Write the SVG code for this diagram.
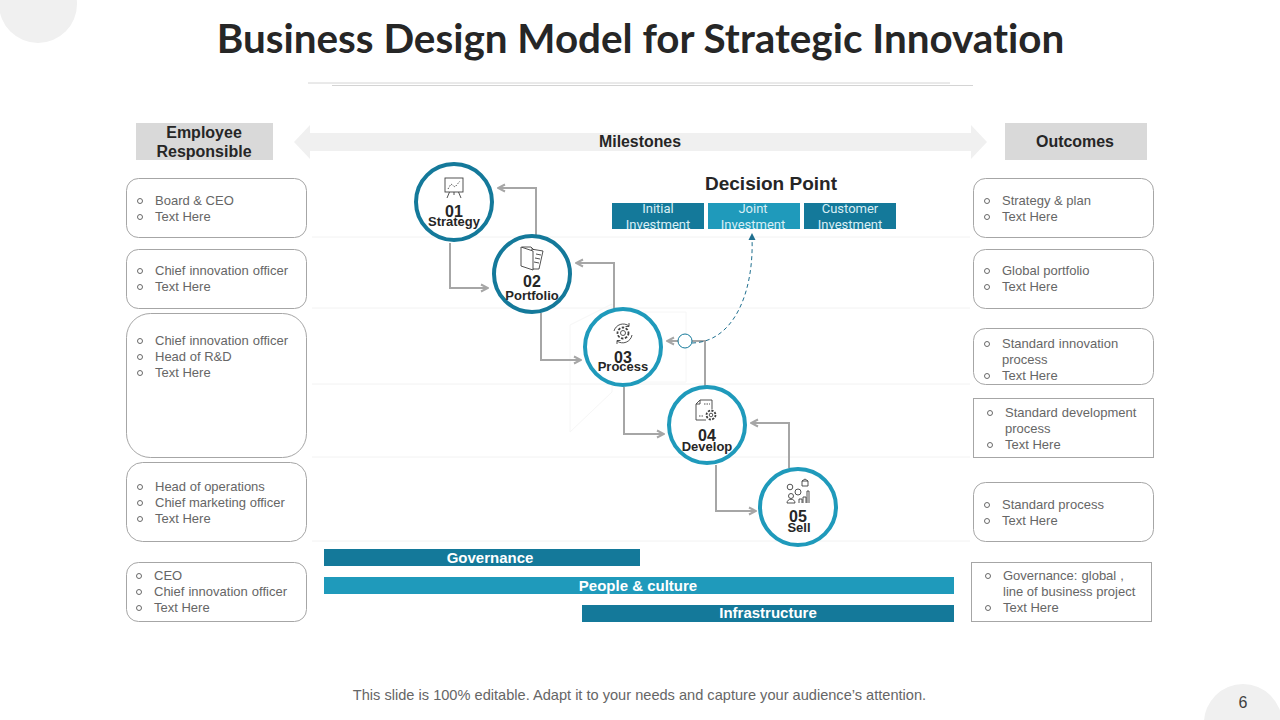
<svg xmlns="http://www.w3.org/2000/svg" width="1280" height="720" viewBox="0 0 1280 720">
<style>
text{font-family:"Liberation Sans",Arial,sans-serif}
.title{font-family:"Lato","Liberation Sans",sans-serif;font-size:40.400px;font-weight:700;fill:#262626;text-anchor:middle;font-variant-ligatures:none}
.hd{font-size:16px;font-weight:700;fill:#262626;text-anchor:middle}
.box{fill:#fff;stroke:#a6a6a6;stroke-width:1}
.li{font-size:13px;fill:#666}
.b{fill:none;stroke:#595959;stroke-width:.9}
.bar{font-size:15px;font-weight:700;fill:#fff;text-anchor:middle}
.dp{font-family:"Roboto","Liberation Sans",sans-serif;font-size:13px;fill:#d8eef5;text-anchor:middle}
.num{font-size:16px;font-weight:700;fill:#262626;text-anchor:middle}
.lab{font-size:13px;font-weight:700;fill:#262626;text-anchor:middle}
.c1{fill:#fff;stroke:#14799a;stroke-width:4}
.c2{fill:#fff;stroke:#1f9abb;stroke-width:4}
.con{fill:none;stroke:#a6a6a6;stroke-width:2}
.faint{stroke:#f2f2f2;stroke-width:1;fill:none}
.ic{fill:none;stroke:#404040;stroke-width:.9}
</style>
<defs>
<marker id="ah" markerUnits="userSpaceOnUse" viewBox="0 0 10 10" refX="9" refY="5" markerWidth="10" markerHeight="10" orient="auto"><path d="M2 1.500L9 5L2 8.500" fill="none" stroke="#a6a6a6" stroke-width="2"/></marker>
</defs>
<rect width="1280" height="720" fill="#fff"/>
<g id="decor">
<circle cx="38" cy="4" r="39" fill="#f0f0f0"/>
<circle cx="1243" cy="723" r="39" fill="#f0f0f0"/>
<path d="M308 83H950M332 85.500H973" stroke="#d4d4d4" stroke-width="1" fill="none"/>
<path class="faint" d="M312 237H970M312 308H970M312 384H970M312 457H970M312 541H970"/>
<path d="M570 325L612 304V392L570 432ZM612 312H686V382H612" fill="none" stroke="#f6f6f6" stroke-width="1"/>
</g>
<text class="title" x="640.500" y="53">Business Design Model for Strategic Innovation</text>
<g id="header-employee"><rect x="136" y="123" width="137" height="37" fill="#d9d9d9"/><text class="hd" x="204" y="138">Employee</text><text class="hd" x="204" y="157">Responsible</text></g>
<g id="header-milestones"><path d="M294 142L310 125V133H971V125L987 142L971 159V151H310V159Z" fill="#f0f0f0"/><text class="hd" x="640" y="147" textLength="82" lengthAdjust="spacingAndGlyphs">Milestones</text></g>
<g id="header-outcomes"><rect x="1005" y="123" width="142" height="37" fill="#d9d9d9"/><text class="hd" x="1075" y="147" textLength="78" lengthAdjust="spacingAndGlyphs">Outcomes</text></g>

<g id="left-1"><rect class="box" x="126.500" y="178.500" width="180" height="59" rx="12"/><circle class="b" cx="140" cy="201" r="2.500"/><circle class="b" cx="140" cy="217" r="2.500"/><text class="li" x="155" y="205">Board &amp; CEO</text><text class="li" x="155" y="221">Text Here</text></g>
<g id="left-2"><rect class="box" x="126.500" y="249.500" width="180" height="59" rx="12"/><circle class="b" cx="140" cy="271" r="2.500"/><circle class="b" cx="140" cy="287" r="2.500"/><text class="li" x="155" y="275" word-spacing=".5">Chief innovation officer</text><text class="li" x="155" y="291">Text Here</text></g>
<g id="left-3"><rect class="box" x="126.500" y="313.500" width="180" height="144" rx="24"/><circle class="b" cx="140" cy="341" r="2.500"/><circle class="b" cx="140" cy="357" r="2.500"/><circle class="b" cx="140" cy="373" r="2.500"/><text class="li" x="155" y="345" word-spacing=".5">Chief innovation officer</text><text class="li" x="155" y="361">Head of R&amp;D</text><text class="li" x="155" y="377">Text Here</text></g>
<g id="left-4"><rect class="box" x="126.500" y="462.500" width="180" height="79" rx="16"/><circle class="b" cx="140" cy="487" r="2.500"/><circle class="b" cx="140" cy="503" r="2.500"/><circle class="b" cx="140" cy="519" r="2.500"/><text class="li" x="155" y="491">Head of operations</text><text class="li" x="155" y="507">Chief marketing officer</text><text class="li" x="155" y="523">Text Here</text></g>
<g id="left-5"><rect class="box" x="126.500" y="562.500" width="180" height="59" rx="12"/><circle class="b" cx="139" cy="576" r="2.500"/><circle class="b" cx="139" cy="592" r="2.500"/><circle class="b" cx="139" cy="608" r="2.500"/><text class="li" x="154" y="580">CEO</text><text class="li" x="154" y="596" word-spacing=".5">Chief innovation officer</text><text class="li" x="154" y="612">Text Here</text></g>

<g id="right-1"><rect class="box" x="973.500" y="178.500" width="180" height="59" rx="12"/><circle class="b" cx="987" cy="201" r="2.500"/><circle class="b" cx="987" cy="217" r="2.500"/><text class="li" x="1002" y="205">Strategy &amp; plan</text><text class="li" x="1002" y="221">Text Here</text></g>
<g id="right-2"><rect class="box" x="973.500" y="249.500" width="180" height="59" rx="12"/><circle class="b" cx="987" cy="271" r="2.500"/><circle class="b" cx="987" cy="287" r="2.500"/><text class="li" x="1002" y="275">Global portfolio</text><text class="li" x="1002" y="291">Text Here</text></g>
<g id="right-3"><rect class="box" x="973.500" y="328.500" width="180" height="56" rx="12"/><circle class="b" cx="987" cy="344" r="2.500"/><circle class="b" cx="987" cy="376" r="2.500"/><text class="li" x="1002" y="348" word-spacing=".5">Standard innovation</text><text class="li" x="1002" y="364">process</text><text class="li" x="1002" y="380">Text Here</text></g>
<g id="right-4"><rect class="box" x="973.500" y="398.500" width="180" height="59"/><circle class="b" cx="990" cy="413" r="2.500"/><circle class="b" cx="990" cy="445" r="2.500"/><text class="li" x="1005" y="417" word-spacing=".5">Standard development</text><text class="li" x="1005" y="433">process</text><text class="li" x="1005" y="449">Text Here</text></g>
<g id="right-5"><rect class="box" x="973.500" y="482.500" width="180" height="59" rx="12"/><circle class="b" cx="987" cy="505" r="2.500"/><circle class="b" cx="987" cy="521" r="2.500"/><text class="li" x="1002" y="509">Standard process</text><text class="li" x="1002" y="525">Text Here</text></g>
<g id="right-6"><rect class="box" x="971.500" y="562.500" width="180" height="59"/><circle class="b" cx="988" cy="576" r="2.500"/><circle class="b" cx="988" cy="608" r="2.500"/><text class="li" x="1003" y="580" word-spacing=".5">Governance: global ,</text><text class="li" x="1003" y="596">line of business project</text><text class="li" x="1003" y="612">Text Here</text></g>

<g id="decision-point">
<text x="771" y="190" font-size="19" font-weight="700" fill="#262626" text-anchor="middle" textLength="132" lengthAdjust="spacingAndGlyphs">Decision Point</text>
<rect x="612" y="203" width="92" height="26" fill="#14799a"/><rect x="708" y="203" width="92" height="26" fill="#1f9abb"/><rect x="804" y="203" width="92" height="26" fill="#14799a"/>
<text class="dp" x="658" y="213">Initial</text><text class="dp" x="658" y="229">Investment</text>
<text class="dp" x="753" y="213">Joint</text><text class="dp" x="753" y="229">Investment</text>
<text class="dp" x="850" y="213">Customer</text><text class="dp" x="850" y="229">Investment</text>
</g>

<g id="connectors">
<path class="con" d="M536 235V188H498" marker-end="url(#ah)"/>
<path class="con" d="M450 243V288H488" marker-end="url(#ah)"/>
<path class="con" d="M614 310V263H576" marker-end="url(#ah)"/>
<path class="con" d="M541 313V360H581" marker-end="url(#ah)"/>
<path class="con" d="M705 387V341H667" marker-end="url(#ah)"/>
<path class="con" d="M624 387V434H664" marker-end="url(#ah)"/>
<path class="con" d="M789 468V423H751" marker-end="url(#ah)"/>
<path class="con" d="M716 465V511H756" marker-end="url(#ah)"/>
<path d="M692 343C735 342 754 290 752 238" fill="none" stroke="#1f6f8f" stroke-width="1" stroke-dasharray="4 3"/>
<path d="M752 233L755.500 240H748.500Z" fill="#1f6f8f"/>
<circle cx="685" cy="341" r="7" fill="#fff" stroke="#14799a" stroke-width="1"/>
</g>

<g id="node-01"><circle class="c1" cx="454" cy="202" r="38"/>
<g class="ic"><rect x="445" y="178" width="18" height="14"/><path d="M447 198L449.500 192M461 198L458.500 192M454 192V195"/><path d="M448 189L451 184L455 187L460 181" stroke-dasharray="1.500 1.500"/></g>
<text class="num" x="454" y="217">01</text><text class="lab" x="454" y="226">Strategy</text></g>
<g id="node-02"><circle class="c1" cx="532" cy="274" r="38"/>
<g class="ic"><path d="M521 247L533 251V270L521 266Z"/><path d="M522 247H531L534 250M531 249L543 251L539 269H533M536 254L541 255M535 258L540 259M534 262L539 263"/></g>
<text class="num" x="532" y="287">02</text><text class="lab" x="532" y="300">Portfolio</text></g>
<g id="node-03"><circle class="c2" cx="623" cy="347" r="38"/>
<g class="ic"><circle cx="623" cy="333" r="5.500" stroke-width="1.800" stroke-dasharray="2.500 1.500"/><circle cx="623" cy="333" r="2.500"/><path d="M614 331A9.500 9.500 0 0 1 629 326M632 335A9.500 9.500 0 0 1 617 341"/><path d="M629 323V326.500H625.500M617 344V340.500H620.500"/></g>
<text class="num" x="623" y="363">03</text><text class="lab" x="623" y="371">Process</text></g>
<g id="node-04"><circle class="c2" cx="707" cy="425" r="38"/>
<g class="ic"><path d="M700 400H712V409M700 400L696 404V420H706M696 404H700V400"/><circle cx="711" cy="415" r="4.500" stroke-width="1.800" stroke-dasharray="2.200 1.300"/><circle cx="711" cy="415" r="1.800"/><path d="M704 404H710M699 416H704" stroke-dasharray="1.500 1"/></g>
<text class="num" x="707" y="441">04</text><text class="lab" x="707" y="451">Develop</text></g>
<g id="node-05"><circle class="c2" cx="798" cy="507" r="38"/>
<g class="ic"><circle cx="790" cy="487" r="2.800"/><path d="M802 486V481H808V486ZM802 481L805 479L808 481"/><circle cx="798" cy="492" r="3"/><circle cx="791" cy="496" r="2.500"/><path d="M787 503C787 498 795 498 795 503ZM799 503V499H802V503M803 503V497H806V503M807 503V491H809V503"/></g>
<text class="num" x="798" y="522">05</text><text class="lab" x="799" y="532">Sell</text></g>

<g id="bars">
<rect x="324" y="549" width="316" height="17" fill="#14799a"/><text class="bar" x="490" y="563">Governance</text>
<rect x="324" y="577" width="630" height="17" fill="#1f9abb"/><text class="bar" x="638" y="591">People &amp; culture</text>
<rect x="582" y="605" width="372" height="17" fill="#14799a"/><text class="bar" x="768" y="618">Infrastructure</text>
</g>
<text x="639.500" y="700" font-size="14.600" fill="#666" text-anchor="middle">This slide is 100% editable. Adapt it to your needs and capture your audience’s attention.</text>
<text x="1243" y="708" font-size="16" fill="#404040" text-anchor="middle">6</text>
</svg>
